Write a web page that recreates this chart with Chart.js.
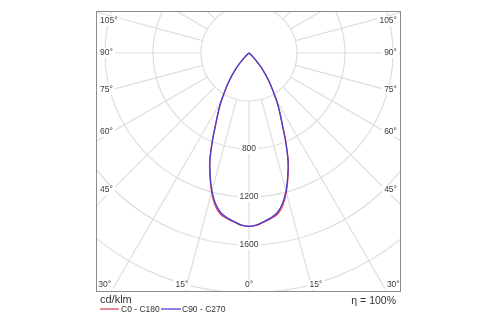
<!DOCTYPE html>
<html>
<head>
<meta charset="utf-8">
<script src="https://cdn.jsdelivr.net/npm/chart.js@4/dist/chart.umd.min.js"></script>
<style>
  body { margin: 0; background: #fff; }
  #wrap { position: relative; width: 500px; height: 325px; }
  .txt { position: absolute; font-family: "Liberation Sans", Arial, sans-serif; color: #333; white-space: nowrap; }
  .key { position: absolute; height: 2px; }
</style>
</head>
<body>
<div id="wrap">
  <canvas id="polar" width="500" height="325"></canvas>
  <div class="txt" style="left:100px; top:293px; font-size:11px;">cd/klm</div>
  <div class="txt" style="right:104px; top:294px; font-size:10.5px;">η = 100%</div>
  <div class="key" style="left:100px; top:308px; width:19px; background:#e58a92;"></div>
  <div class="txt" style="left:121px; top:304px; font-size:8.5px;">C0 - C180</div>
  <div class="key" style="left:161px; top:308px; width:20px; background:#8a86e0;"></div>
  <div class="txt" style="left:182px; top:304px; font-size:8.5px;">C90 - C270</div>
</div>
<script>
// Winkel gamma (0 = senkrecht nach unten) und Lichtstärke in cd/klm
const gamma = [0, 2.5, 5, 7.5, 10, 12.5, 15, 17.5, 20, 22.5, 25, 27.5, 30, 35, 40, 45, 50, 55, 60, 70, 80, 90];
const c0c180 = [1445, 1437, 1414, 1392, 1365, 1302, 1202, 1082, 957, 802, 660, 555, 465, 297, 166, 52, 4, 0, 0, 0, 0, 0];
const c90c270 = [1445, 1436, 1411, 1386, 1352, 1286, 1192, 1075, 950, 798, 656, 552, 462, 295, 165, 51, 4, 0, 0, 0, 0, 0];

const ringValues = [400, 800, 1200, 1600, 2000, 2400];
const ringLabels = [800, 1200, 1600];
const angleLabelsSide = [105, 90, 75, 60, 45];
const angleLabelsBottom = [30, 15, 0];

// Polarkurve -> x/y (links C180 bzw. C270, rechts C0 bzw. C90)
function toPoints(values) {
    const pts = [];
    for (let i = gamma.length - 1; i >= 0; i--) {
        const a = gamma[i] * Math.PI / 180;
        pts.push({ x: -values[i] * Math.sin(a), y: -values[i] * Math.cos(a) });
    }
    for (let i = 1; i < gamma.length; i++) {
        const a = gamma[i] * Math.PI / 180;
        pts.push({ x: values[i] * Math.sin(a), y: -values[i] * Math.cos(a) });
    }
    return pts;
}

const polarGrid = {
    id: 'polarGrid',
    beforeDatasetsDraw(chart) {
        const { ctx, chartArea: area, scales } = chart;
        const cx = scales.x.getPixelForValue(0);
        const cy = scales.y.getPixelForValue(0);
        const k = scales.x.getPixelForValue(1000) - cx; // px pro 1000 cd/klm
        const r = v => v * k / 1000;

        ctx.save();
        ctx.beginPath();
        ctx.rect(area.left, area.top, area.right - area.left, area.bottom - area.top);
        ctx.clip();
        ctx.strokeStyle = '#dedede';
        ctx.lineWidth = 1.2;

        ringValues.forEach(v => {
            ctx.beginPath();
            ctx.arc(cx, cy, r(v), 0, Math.PI * 2);
            ctx.stroke();
        });
        for (let deg = 0; deg < 360; deg += 15) {
            const a = deg * Math.PI / 180;
            const sx = Math.sin(a), sy = Math.cos(a);
            ctx.beginPath();
            ctx.moveTo(cx + sx * r(400), cy + sy * r(400));
            ctx.lineTo(cx + sx * r(3000), cy + sy * r(3000));
            ctx.stroke();
        }

        ctx.font = '8.5px "Liberation Sans", Arial, sans-serif';
        ctx.textBaseline = 'middle';
        const label = (text, x, y, align) => {
            ctx.textAlign = align;
            const w = ctx.measureText(text).width;
            const x0 = align === 'left' ? x : align === 'right' ? x - w : x - w / 2;
            ctx.fillStyle = '#fff';
            ctx.fillRect(x0 - 2, y - 5, w + 4, 10);
            ctx.fillStyle = '#3c3c3c';
            ctx.fillText(text, x, y);
        };

        ringLabels.forEach(v => label(String(v), cx, cy + r(v), 'center'));

        const dx = 137;
        angleLabelsSide.forEach(deg => {
            const a = deg * Math.PI / 180;
            const y = Math.max(area.top + 10, cy + dx * Math.cos(a) / Math.sin(a));
            label(deg + '°', area.left + 4, y, 'left');
            label(deg + '°', area.right - 4, y, 'right');
        });
        const yb = area.bottom - 7;
        angleLabelsBottom.forEach(deg => {
            const off = 250 * Math.tan(deg * Math.PI / 180);
            label(deg + '°', cx - off, yb, 'center');
            if (deg !== 0) label(deg + '°', cx + off, yb, 'center');
        });
        ctx.restore();
    },
    afterDraw(chart) {
        const { ctx, chartArea: area } = chart;
        ctx.save();
        ctx.strokeStyle = '#8c8c8c';
        ctx.lineWidth = 1;
        ctx.strokeRect(area.left + 0.5, area.top + 0.5, area.right - area.left - 1, area.bottom - area.top - 1);
        ctx.restore();
    }
};

new Chart(document.getElementById('polar'), {
    type: 'scatter',
    data: {
        datasets: [
            {
                label: 'C0 - C180',
                data: toPoints(c0c180),
                showLine: true,
                borderColor: '#e0406e',
                borderWidth: 1.3,
                pointRadius: 0,
                tension: 0.35,
                order: 2
            },
            {
                label: 'C90 - C270',
                data: toPoints(c90c270),
                showLine: true,
                borderColor: '#4a3cc8',
                borderWidth: 1.3,
                pointRadius: 0,
                tension: 0.35,
                order: 1
            }
        ]
    },
    options: {
        responsive: false,
        animation: false,
        devicePixelRatio: 1,
        layout: { padding: { left: 96, top: 11, right: 99, bottom: 33 } },
        scales: {
            x: { type: 'linear', display: false, min: -1275, max: 1267 },
            y: { type: 'linear', display: false, min: -1992, max: 350 }
        },
        plugins: {
            legend: { display: false },
            tooltip: { enabled: false }
        }
    },
    plugins: [polarGrid]
});
</script>
</body>
</html>
